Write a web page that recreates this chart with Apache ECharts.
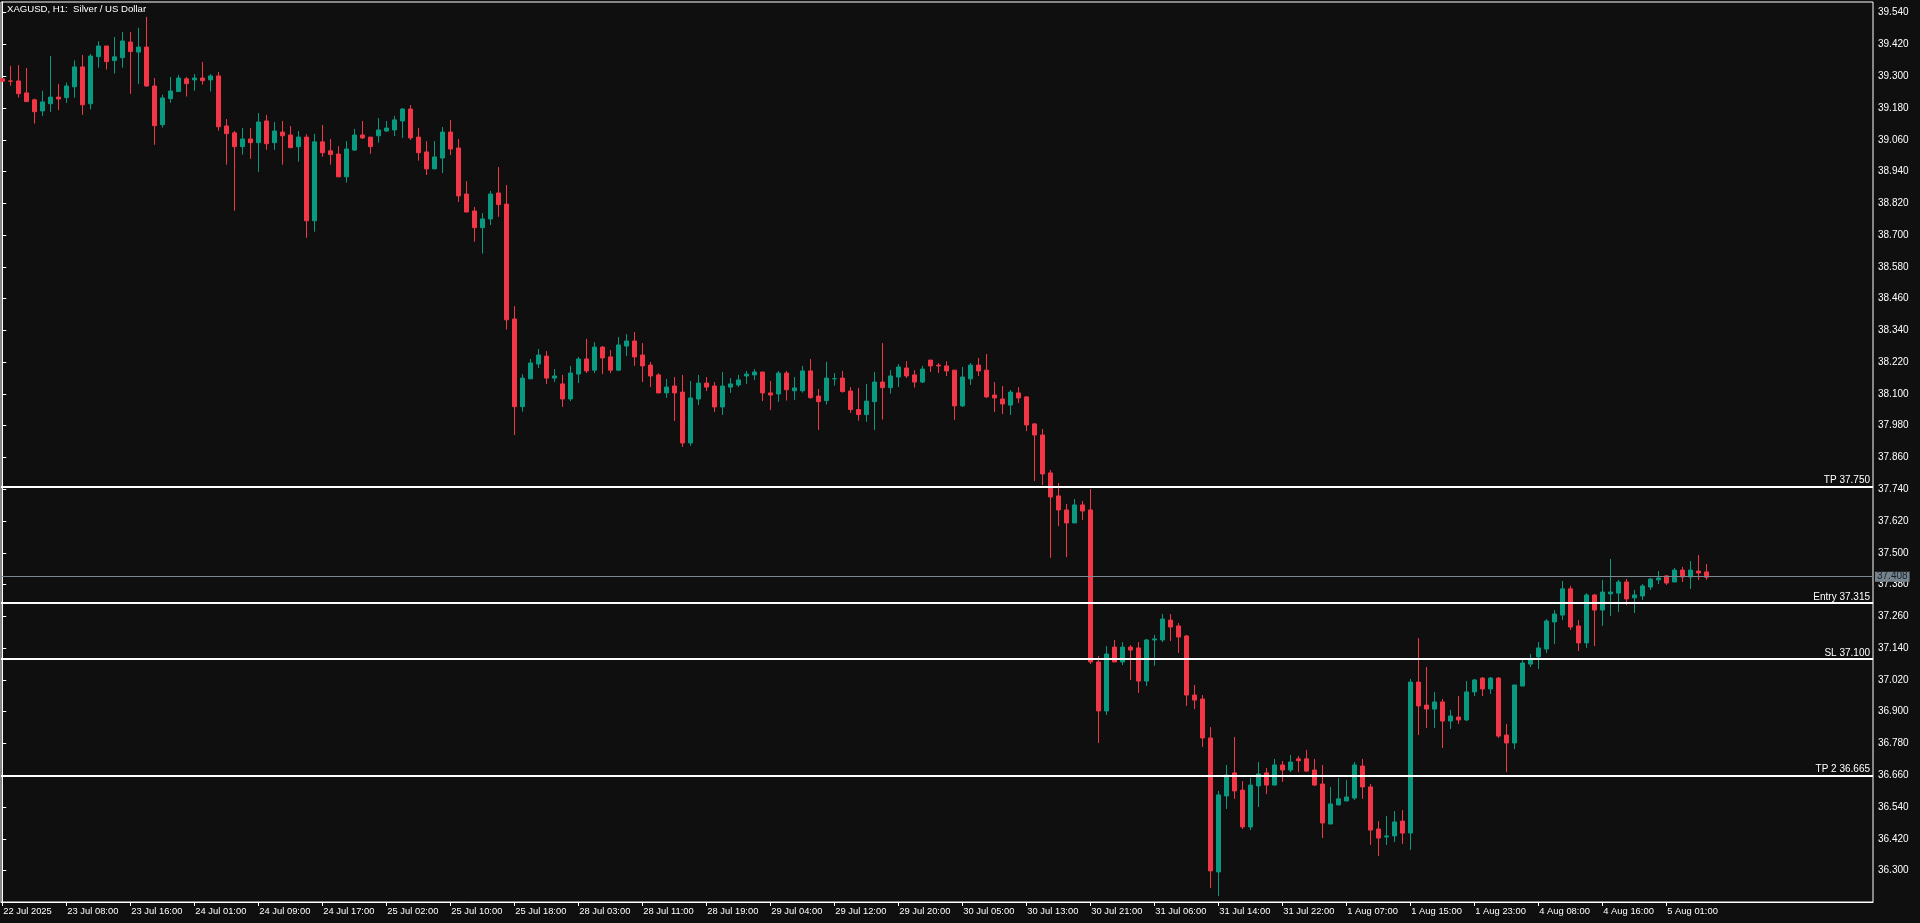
<!DOCTYPE html>
<html>
<head>
<meta charset="utf-8">
<script src="https://cdn.jsdelivr.net/npm/echarts@6.0.0/dist/echarts.min.js"></script>
<style>
html,body{margin:0;padding:0;background:#0f0f0f;}
#chart{width:1920px;height:923px;}
</style>
</head>
<body>
<div id="chart"></div>
<script>
const chartTitle = 'XAGUSD, H1:  Silver / US Dollar';

const openP = [
39.290,39.282,39.282,39.237,39.211,39.169,39.196,39.221,39.219,39.260,
39.335,39.196,39.374,39.414,39.359,39.370,39.429,39.391,39.410,39.263,
39.117,39.215,39.242,39.290,39.286,39.293,39.286,39.301,39.112,39.086,
39.034,39.063,39.049,39.131,39.049,39.089,39.078,39.034,39.070,38.754,
39.052,39.018,39.006,38.920,39.021,39.078,39.070,39.075,39.093,39.097,
39.131,39.176,39.070,39.014,38.950,38.991,39.089,39.029,38.855,38.791,
38.728,38.761,38.859,38.817,38.383,38.052,38.157,38.213,38.243,38.160,
38.138,38.081,38.175,38.232,38.190,38.277,38.240,38.190,38.281,38.300,
38.247,38.209,38.172,38.104,38.130,38.107,37.915,38.081,38.141,38.130,
38.051,38.126,38.134,38.168,38.172,38.183,38.104,38.100,38.179,38.112,
38.112,38.187,38.092,38.075,38.157,38.160,38.111,38.041,38.022,38.071,
38.145,38.124,38.164,38.198,38.172,38.145,38.228,38.209,38.206,38.190,
38.055,38.157,38.209,38.190,38.096,38.081,38.058,38.104,38.089,37.987,
37.945,37.802,37.715,37.662,37.613,37.681,37.662,37.088,36.903,37.144,
37.088,37.144,37.141,37.016,37.171,37.171,37.246,37.224,37.186,36.963,
36.948,36.801,36.295,36.582,36.669,36.604,36.465,36.620,36.669,36.623,
36.699,36.680,36.722,36.722,36.680,36.627,36.476,36.548,36.563,36.574,
36.695,36.616,36.457,36.427,36.431,36.487,36.442,37.012,36.925,36.910,
36.937,36.865,36.880,36.869,36.975,37.027,36.986,37.027,36.812,36.782,
36.997,37.080,37.107,37.137,37.239,37.265,37.364,37.224,37.160,37.341,
37.284,37.345,37.348,37.390,37.330,37.337,37.371,37.398,37.413,37.390,
37.435,37.409,37.431,37.428
];
const closeP = [
39.281,39.281,39.234,39.204,39.166,39.203,39.221,39.214,39.263,39.335,
39.192,39.376,39.414,39.355,39.373,39.433,39.393,39.410,39.263,39.113,
39.218,39.244,39.293,39.272,39.293,39.283,39.301,39.109,39.083,39.034,
39.063,39.049,39.127,39.045,39.093,39.075,39.030,39.070,38.754,39.052,
39.011,39.004,38.920,39.025,39.078,39.067,39.034,39.097,39.104,39.135,
39.176,39.067,39.011,38.950,38.995,39.089,39.025,38.848,38.787,38.728,
38.761,38.855,38.815,38.380,38.052,38.160,38.217,38.247,38.160,38.168,
38.081,38.179,38.232,38.187,38.277,38.236,38.190,38.285,38.300,38.240,
38.206,38.168,38.104,38.126,38.104,37.915,38.085,38.141,38.126,38.051,
38.130,38.138,38.153,38.175,38.183,38.104,38.096,38.179,38.116,38.123,
38.187,38.086,38.071,38.160,38.158,38.109,38.041,38.022,38.073,38.145,
38.124,38.168,38.202,38.168,38.145,38.194,38.206,38.206,38.187,38.055,
38.164,38.209,38.187,38.089,38.085,38.062,38.107,38.085,37.983,37.945,
37.798,37.711,37.662,37.613,37.681,37.658,37.088,36.903,37.118,37.088,
37.144,37.133,37.016,37.171,37.175,37.250,37.220,37.182,36.963,36.944,
36.801,36.299,36.586,36.661,36.601,36.465,36.623,36.665,36.623,36.699,
36.680,36.710,36.715,36.676,36.623,36.480,36.552,36.571,36.578,36.699,
36.616,36.453,36.423,36.431,36.484,36.442,37.012,36.922,36.910,36.937,
36.865,36.884,36.869,36.975,37.020,36.986,37.027,36.808,36.782,37.001,
37.084,37.099,37.141,37.243,37.269,37.364,37.220,37.160,37.341,37.284,
37.352,37.352,37.390,37.326,37.341,37.375,37.401,37.405,37.386,37.435,
37.409,37.435,37.424,37.408
];
const lowP = [
39.278,39.264,39.219,39.203,39.121,39.150,39.165,39.172,39.199,39.219,
39.154,39.175,39.332,39.325,39.310,39.332,39.233,39.271,39.260,39.041,
39.106,39.200,39.242,39.223,39.245,39.268,39.242,39.094,38.966,38.792,
39.004,38.988,38.939,39.022,39.022,38.966,39.030,38.977,38.690,38.713,
38.996,38.966,38.920,38.898,39.018,39.063,39.007,39.049,39.089,39.074,
39.067,39.059,38.981,38.927,38.950,38.934,39.002,38.825,38.787,38.675,
38.630,38.738,38.769,38.343,37.945,38.033,38.157,38.198,38.138,38.145,
38.051,38.073,38.141,38.179,38.179,38.175,38.179,38.187,38.243,38.206,
38.145,38.126,38.104,38.085,37.998,37.900,37.904,38.058,38.111,38.032,
38.021,38.104,38.126,38.138,38.153,38.073,38.039,38.070,38.075,38.078,
38.105,38.082,37.964,38.060,38.131,38.105,38.029,37.999,37.995,37.964,
38.003,38.101,38.126,38.160,38.124,38.141,38.183,38.179,38.168,38.002,
38.051,38.134,38.168,38.085,38.032,38.024,38.021,38.066,37.960,37.771,
37.756,37.481,37.601,37.484,37.613,37.624,37.080,36.782,36.888,37.088,
37.076,37.020,36.971,36.997,37.073,37.163,37.167,37.122,36.922,36.910,
36.767,36.234,36.204,36.533,36.571,36.457,36.453,36.540,36.589,36.623,
36.635,36.672,36.672,36.672,36.620,36.423,36.476,36.548,36.563,36.567,
36.571,36.397,36.355,36.397,36.408,36.401,36.378,36.812,36.839,36.839,
36.763,36.835,36.854,36.865,36.959,36.959,36.967,36.801,36.672,36.759,
36.997,37.069,37.061,37.122,37.156,37.246,37.209,37.129,37.141,37.148,
37.224,37.262,37.277,37.303,37.273,37.322,37.360,37.382,37.379,37.390,
37.390,37.364,37.398,37.398
];
const highP = [
39.293,39.339,39.342,39.331,39.215,39.245,39.376,39.271,39.276,39.360,
39.380,39.384,39.432,39.414,39.448,39.467,39.467,39.483,39.524,39.293,
39.230,39.297,39.305,39.297,39.308,39.354,39.308,39.316,39.138,39.093,
39.104,39.104,39.161,39.154,39.127,39.131,39.112,39.093,39.081,39.082,
39.116,39.063,39.036,39.055,39.101,39.131,39.070,39.142,39.131,39.150,
39.180,39.191,39.104,39.055,39.055,39.108,39.135,39.063,38.904,38.806,
38.783,38.867,38.957,38.889,38.432,38.175,38.232,38.270,38.262,38.194,
38.172,38.206,38.240,38.308,38.296,38.281,38.266,38.315,38.326,38.334,
38.292,38.221,38.179,38.157,38.164,38.172,38.149,38.172,38.164,38.145,
38.183,38.160,38.172,38.187,38.194,38.183,38.149,38.187,38.187,38.164,
38.206,38.232,38.119,38.221,38.179,38.187,38.126,38.123,38.138,38.183,
38.292,38.190,38.213,38.224,38.190,38.206,38.228,38.217,38.224,38.190,
38.202,38.217,38.236,38.251,38.145,38.130,38.115,38.126,38.092,37.990,
37.968,37.813,37.764,37.685,37.703,37.696,37.741,37.110,37.148,37.171,
37.163,37.152,37.163,37.175,37.190,37.269,37.269,37.235,37.190,37.001,
36.963,36.842,36.601,36.699,36.805,36.638,36.650,36.710,36.688,36.722,
36.714,36.737,36.733,36.756,36.722,36.699,36.616,36.650,36.642,36.710,
36.722,36.627,36.487,36.506,36.525,36.529,37.024,37.178,37.069,36.975,
36.948,36.907,36.959,37.016,37.024,37.031,37.031,37.031,36.854,37.001,
37.099,37.118,37.163,37.250,37.284,37.394,37.375,37.246,37.348,37.345,
37.398,37.477,37.398,37.401,37.360,37.382,37.405,37.431,37.416,37.443,
37.447,37.469,37.492,37.458
];

const xTickIndex = [0,8,16,24,32,40,48,56,64,72,80,88,96,104,112,120,128,136,144,152,160,168,176,184,192,200,208];
const xTickLabels = ['22 Jul 2025','23 Jul 08:00','23 Jul 16:00','24 Jul 01:00','24 Jul 09:00','24 Jul 17:00',
'25 Jul 02:00','25 Jul 10:00','25 Jul 18:00','28 Jul 03:00','28 Jul 11:00','28 Jul 19:00','29 Jul 04:00',
'29 Jul 12:00','29 Jul 20:00','30 Jul 05:00','30 Jul 13:00','30 Jul 21:00','31 Jul 06:00','31 Jul 14:00',
'31 Jul 22:00','1 Aug 07:00','1 Aug 15:00','1 Aug 23:00','4 Aug 08:00','4 Aug 16:00','5 Aug 01:00'];

const yTicks = [36.300,36.420,36.540,36.660,36.780,36.900,37.020,37.140,37.260,37.380,37.500,37.620,37.740,
37.860,37.980,38.100,38.220,38.340,38.460,38.580,38.700,38.820,38.940,39.060,39.180,39.300,39.420,39.540];

const levelNames = ['TP 37.750','Entry 37.315','SL 37.100','TP 2 36.665'];
const levelValues = [37.750, 37.315, 37.100, 36.665];
const currentPrice = 37.408;

const candleData = openP.map((o, i) => [i, o, closeP[i], lowP[i], highP[i]]);
const labelMap = {};
xTickIndex.forEach((v, i) => { labelMap[v] = xTickLabels[i]; });

const FONT = 'Liberation Sans, Arial, sans-serif';

const markData = levelValues.map((v, i) => ({
  yAxis: v,
  lineStyle: { color: '#ffffff', width: 2, type: 'solid' },
  label: {
    show: true, position: 'insideEndTop', formatter: levelNames[i],
    color: '#ffffff', fontSize: 10, fontFamily: FONT, distance: [3, 1]
  }
}));
markData.push({
  yAxis: currentPrice,
  lineStyle: { color: '#7d8791', width: 1, type: 'solid' },
  label: {
    show: true, position: 'end', formatter: currentPrice.toFixed(3),
    color: '#1c2026', backgroundColor: '#75838f', fontSize: 10, fontFamily: FONT,
    lineHeight: 10, padding: [0, 2, 0, 2], distance: 2
  }
});

const chart = echarts.init(document.getElementById('chart'), null, { renderer: 'canvas' });
chart.setOption({
  backgroundColor: '#0f0f0f',
  animation: false,
  graphic: [{
    type: 'text', left: 7, top: 4, z: 10,
    style: { text: chartTitle, fill: '#ffffff', fontSize: 9.6, fontFamily: FONT }
  }],
  grid: {
    left: 1, top: 2, right: 47, bottom: 21,
    show: true, borderColor: '#ffffff', borderWidth: 1, backgroundColor: 'transparent'
  },
  xAxis: {
    type: 'value', min: -0.1625, max: 233.8375,
    splitLine: { show: false },
    axisLine: { show: true, lineStyle: { color: '#ffffff', width: 1 } },
    axisTick: { show: true, customValues: xTickIndex, length: 4, lineStyle: { color: '#ffffff' } },
    axisLabel: {
      show: true, customValues: xTickIndex, align: 'left', margin: 5, padding: [0, 0, 0, 1],
      color: '#ffffff', fontSize: 9.4, fontFamily: FONT, hideOverlap: false,
      formatter: v => labelMap[Math.round(v)] || ''
    }
  },
  yAxis: {
    type: 'value', position: 'right', min: 36.1815, max: 39.5802, scale: true,
    splitLine: { show: false },
    axisLine: { show: true, lineStyle: { color: '#ffffff', width: 1 } },
    axisTick: { show: true, customValues: yTicks, length: 4, inside: false, lineStyle: { color: '#ffffff' } },
    axisLabel: {
      show: true, customValues: yTicks, margin: 5, color: '#ffffff', fontSize: 10, fontFamily: FONT,
      hideOverlap: false, formatter: v => v.toFixed(3)
    }
  },
  series: [{
    type: 'candlestick',
    data: candleData,
    barWidth: 4,
    clip: true,
    itemStyle: {
      color: '#089981', color0: '#f23645',
      borderColor: '#089981', borderColor0: '#f23645', borderColorDoji: '#f23645',
      borderWidth: 1
    },
    markLine: {
      silent: true, symbol: ['none', 'none'], animation: false, z: 5,
      data: markData
    }
  }]
});
</script>
</body>
</html>
